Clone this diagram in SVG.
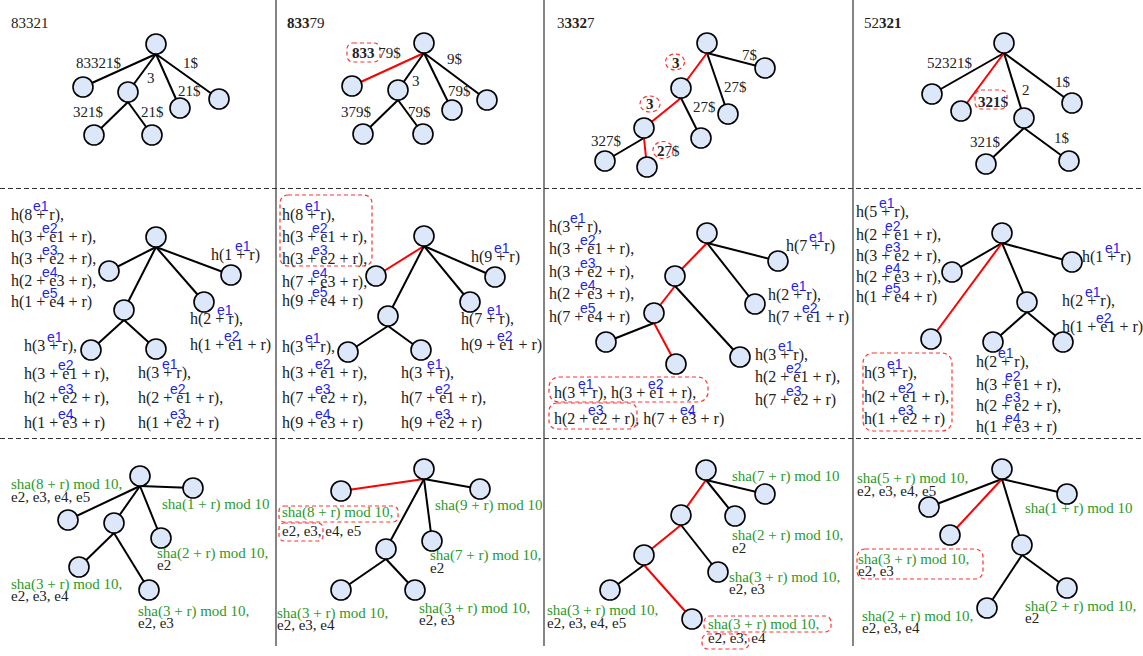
<svg xmlns="http://www.w3.org/2000/svg" width="1143" height="656" viewBox="0 0 1143 656">
<style>
.n{fill:#dce8fa;stroke:#000;stroke-width:1.6}
.e{stroke:#000;stroke-width:2;fill:none}
.r{stroke:#f00;stroke-width:2;fill:none}
.t{font-family:"Liberation Serif",serif;font-size:15px;fill:#222}
.h{font-family:"Liberation Serif",serif;font-size:16px;fill:#222}
.s{font-family:"Liberation Sans",sans-serif;font-size:14px;fill:#1f1ff0}
.g{fill:#2a9a2a}
.b{font-weight:bold}
.box{fill:none;stroke:#f33;stroke-width:1.2;stroke-dasharray:4 3}
.dv{stroke:#333;stroke-width:1.2}
.hd{stroke:#333;stroke-width:1.2;stroke-dasharray:5 3}
</style>
<g id="frame">
<line class="dv" x1="276" y1="0" x2="276" y2="646"/>
<line class="dv" x1="544" y1="0" x2="544" y2="646"/>
<line class="dv" x1="853" y1="0" x2="853" y2="646"/>
<line class="hd" x1="0" y1="188.5" x2="1143" y2="188.5"/>
<line class="hd" x1="0" y1="438.5" x2="1143" y2="438.5"/>
</g>
<g id="connectors">
<!-- row1 col1 -->
<line class="e" x1="156" y1="54" x2="83" y2="87"/>
<line class="e" x1="156" y1="54" x2="128" y2="92"/>
<line class="e" x1="156" y1="54" x2="180" y2="108"/>
<line class="e" x1="156" y1="54" x2="219" y2="99"/>
<line class="e" x1="128" y1="102" x2="94" y2="135"/>
<line class="e" x1="128" y1="102" x2="152" y2="135"/>
<!-- row1 col2 -->
<line class="r" x1="424" y1="53" x2="352" y2="86"/>
<line class="e" x1="424" y1="53" x2="398" y2="90"/>
<line class="e" x1="424" y1="53" x2="452" y2="110"/>
<line class="e" x1="424" y1="53" x2="487" y2="100"/>
<line class="e" x1="398" y1="100" x2="363" y2="134"/>
<line class="e" x1="398" y1="100" x2="423" y2="134"/>
<!-- row1 col3 -->
<line class="e" x1="707" y1="53" x2="765" y2="68"/>
<line class="e" x1="707" y1="53" x2="728" y2="114"/>
<line class="r" x1="707" y1="53" x2="681" y2="88"/>
<line class="e" x1="681" y1="98" x2="701" y2="138"/>
<line class="r" x1="681" y1="98" x2="644" y2="128"/>
<line class="e" x1="644" y1="138" x2="605" y2="161"/>
<line class="r" x1="644" y1="138" x2="647" y2="167"/>
<!-- row1 col4 -->
<line class="e" x1="1004" y1="53" x2="932" y2="94"/>
<line class="r" x1="1004" y1="53" x2="961" y2="111"/>
<line class="e" x1="1004" y1="53" x2="1024" y2="118"/>
<line class="e" x1="1004" y1="53" x2="1072" y2="103"/>
<line class="e" x1="1024" y1="128" x2="986" y2="164"/>
<line class="e" x1="1024" y1="128" x2="1069" y2="161"/>
<!-- row2 col1 -->
<line class="e" x1="156" y1="247" x2="109" y2="271"/>
<line class="e" x1="156" y1="247" x2="124" y2="310"/>
<line class="e" x1="156" y1="247" x2="204" y2="302"/>
<line class="e" x1="156" y1="247" x2="231" y2="275"/>
<line class="e" x1="124" y1="320" x2="91" y2="350"/>
<line class="e" x1="124" y1="320" x2="156" y2="349"/>
<!-- row2 col2 -->
<line class="r" x1="424" y1="246" x2="376" y2="276"/>
<line class="e" x1="424" y1="246" x2="388" y2="316"/>
<line class="e" x1="424" y1="246" x2="470" y2="302"/>
<line class="e" x1="424" y1="246" x2="495" y2="277"/>
<line class="e" x1="388" y1="326" x2="348" y2="352"/>
<line class="e" x1="388" y1="326" x2="421" y2="350"/>
<!-- row2 col3 -->
<line class="r" x1="707" y1="243" x2="675" y2="276"/>
<line class="e" x1="707" y1="243" x2="755" y2="304"/>
<line class="e" x1="707" y1="243" x2="778" y2="261"/>
<line class="r" x1="675" y1="286" x2="654" y2="313"/>
<line class="e" x1="675" y1="286" x2="740" y2="357"/>
<line class="e" x1="654" y1="323" x2="606" y2="342"/>
<line class="r" x1="654" y1="323" x2="676" y2="364"/>
<!-- row2 col4 -->
<line class="e" x1="1002" y1="243" x2="952" y2="272"/>
<line class="r" x1="1002" y1="243" x2="931" y2="339"/>
<line class="e" x1="1002" y1="243" x2="1027" y2="302"/>
<line class="e" x1="1002" y1="243" x2="1072" y2="262"/>
<line class="e" x1="1027" y1="312" x2="993" y2="342"/>
<line class="e" x1="1027" y1="312" x2="1063" y2="342"/>
<!-- row3 col1 -->
<line class="e" x1="140" y1="486" x2="68" y2="520"/>
<line class="e" x1="140" y1="486" x2="114" y2="523"/>
<line class="e" x1="140" y1="486" x2="161" y2="538"/>
<line class="e" x1="140" y1="486" x2="193" y2="488"/>
<line class="e" x1="114" y1="533" x2="79" y2="567"/>
<line class="e" x1="114" y1="533" x2="149" y2="590"/>
<!-- row3 col2 -->
<line class="r" x1="424" y1="479" x2="341" y2="491"/>
<line class="e" x1="424" y1="479" x2="386" y2="549"/>
<line class="e" x1="424" y1="479" x2="432" y2="541"/>
<line class="e" x1="424" y1="479" x2="480" y2="489"/>
<line class="e" x1="386" y1="559" x2="341" y2="590"/>
<line class="e" x1="386" y1="559" x2="415" y2="590"/>
<!-- row3 col3 -->
<line class="e" x1="706" y1="480" x2="765" y2="494"/>
<line class="e" x1="706" y1="480" x2="735" y2="516"/>
<line class="r" x1="706" y1="480" x2="681" y2="515"/>
<line class="r" x1="681" y1="525" x2="644" y2="555"/>
<line class="e" x1="681" y1="525" x2="718" y2="572"/>
<line class="e" x1="644" y1="565" x2="610" y2="590"/>
<line class="r" x1="644" y1="565" x2="692" y2="619"/>
<!-- row3 col4 -->
<line class="e" x1="1002" y1="479" x2="929" y2="507"/>
<line class="r" x1="1002" y1="479" x2="950" y2="535"/>
<line class="e" x1="1002" y1="479" x2="1022" y2="545"/>
<line class="e" x1="1002" y1="479" x2="1067" y2="494"/>
<line class="e" x1="1022" y1="555" x2="987" y2="608"/>
<line class="e" x1="1022" y1="555" x2="1067" y2="588"/>
</g>
<g id="nodes">
<g id="a1-root"><circle class="n" cx="156" cy="44" r="10"/></g>
<g id="a1-n1"><circle class="n" cx="83" cy="87" r="10"/></g>
<g id="a1-n2"><circle class="n" cx="128" cy="92" r="10"/></g>
<g id="a1-n3"><circle class="n" cx="180" cy="108" r="10"/></g>
<g id="a1-n4"><circle class="n" cx="219" cy="99" r="10"/></g>
<g id="a1-n5"><circle class="n" cx="94" cy="135" r="10"/></g>
<g id="a1-n6"><circle class="n" cx="152" cy="135" r="10"/></g>
<g id="a2-root"><circle class="n" cx="424" cy="43" r="10"/></g>
<g id="a2-n1"><circle class="n" cx="352" cy="86" r="10"/></g>
<g id="a2-n2"><circle class="n" cx="398" cy="90" r="10"/></g>
<g id="a2-n3"><circle class="n" cx="452" cy="110" r="10"/></g>
<g id="a2-n4"><circle class="n" cx="487" cy="100" r="10"/></g>
<g id="a2-n5"><circle class="n" cx="363" cy="134" r="10"/></g>
<g id="a2-n6"><circle class="n" cx="423" cy="134" r="10"/></g>
<g id="a3-root"><circle class="n" cx="707" cy="43" r="10"/></g>
<g id="a3-n1"><circle class="n" cx="765" cy="68" r="10"/></g>
<g id="a3-n2"><circle class="n" cx="728" cy="114" r="10"/></g>
<g id="a3-n3"><circle class="n" cx="681" cy="88" r="10"/></g>
<g id="a3-n4"><circle class="n" cx="701" cy="138" r="10"/></g>
<g id="a3-n5"><circle class="n" cx="644" cy="128" r="10"/></g>
<g id="a3-n6"><circle class="n" cx="605" cy="161" r="10"/></g>
<g id="a3-n7"><circle class="n" cx="647" cy="167" r="10"/></g>
<g id="a4-root"><circle class="n" cx="1004" cy="43" r="10"/></g>
<g id="a4-n1"><circle class="n" cx="932" cy="94" r="10"/></g>
<g id="a4-n2"><circle class="n" cx="961" cy="111" r="10"/></g>
<g id="a4-n3"><circle class="n" cx="1024" cy="118" r="10"/></g>
<g id="a4-n4"><circle class="n" cx="1072" cy="103" r="10"/></g>
<g id="a4-n5"><circle class="n" cx="986" cy="164" r="10"/></g>
<g id="a4-n6"><circle class="n" cx="1069" cy="161" r="10"/></g>
<g id="b1-root"><circle class="n" cx="156" cy="237" r="10"/></g>
<g id="b1-n1"><circle class="n" cx="109" cy="271" r="10"/></g>
<g id="b1-n2"><circle class="n" cx="124" cy="310" r="10"/></g>
<g id="b1-n3"><circle class="n" cx="204" cy="302" r="10"/></g>
<g id="b1-n4"><circle class="n" cx="231" cy="275" r="10"/></g>
<g id="b1-n5"><circle class="n" cx="91" cy="350" r="10"/></g>
<g id="b1-n6"><circle class="n" cx="156" cy="349" r="10"/></g>
<g id="b2-root"><circle class="n" cx="424" cy="236" r="10"/></g>
<g id="b2-n1"><circle class="n" cx="376" cy="276" r="10"/></g>
<g id="b2-n2"><circle class="n" cx="388" cy="316" r="10"/></g>
<g id="b2-n3"><circle class="n" cx="470" cy="302" r="10"/></g>
<g id="b2-n4"><circle class="n" cx="495" cy="277" r="10"/></g>
<g id="b2-n5"><circle class="n" cx="348" cy="352" r="10"/></g>
<g id="b2-n6"><circle class="n" cx="421" cy="350" r="10"/></g>
<g id="b3-root"><circle class="n" cx="707" cy="233" r="10"/></g>
<g id="b3-n1"><circle class="n" cx="675" cy="276" r="10"/></g>
<g id="b3-n2"><circle class="n" cx="755" cy="304" r="10"/></g>
<g id="b3-n3"><circle class="n" cx="778" cy="261" r="10"/></g>
<g id="b3-n4"><circle class="n" cx="654" cy="313" r="10"/></g>
<g id="b3-n5"><circle class="n" cx="740" cy="357" r="10"/></g>
<g id="b3-n6"><circle class="n" cx="606" cy="342" r="10"/></g>
<g id="b3-n7"><circle class="n" cx="676" cy="364" r="10"/></g>
<g id="b4-root"><circle class="n" cx="1002" cy="233" r="10"/></g>
<g id="b4-n1"><circle class="n" cx="952" cy="272" r="10"/></g>
<g id="b4-n2"><circle class="n" cx="931" cy="339" r="10"/></g>
<g id="b4-n3"><circle class="n" cx="1027" cy="302" r="10"/></g>
<g id="b4-n4"><circle class="n" cx="1072" cy="262" r="10"/></g>
<g id="b4-n5"><circle class="n" cx="993" cy="342" r="10"/></g>
<g id="b4-n6"><circle class="n" cx="1063" cy="342" r="10"/></g>
<g id="c1-root"><circle class="n" cx="140" cy="476" r="10"/></g>
<g id="c1-n1"><circle class="n" cx="68" cy="520" r="10"/></g>
<g id="c1-n2"><circle class="n" cx="114" cy="523" r="10"/></g>
<g id="c1-n3"><circle class="n" cx="161" cy="538" r="10"/></g>
<g id="c1-n4"><circle class="n" cx="193" cy="488" r="10"/></g>
<g id="c1-n5"><circle class="n" cx="79" cy="567" r="10"/></g>
<g id="c1-n6"><circle class="n" cx="149" cy="590" r="10"/></g>
<g id="c2-root"><circle class="n" cx="424" cy="469" r="10"/></g>
<g id="c2-n1"><circle class="n" cx="341" cy="491" r="10"/></g>
<g id="c2-n2"><circle class="n" cx="386" cy="549" r="10"/></g>
<g id="c2-n3"><circle class="n" cx="432" cy="541" r="10"/></g>
<g id="c2-n4"><circle class="n" cx="480" cy="489" r="10"/></g>
<g id="c2-n5"><circle class="n" cx="341" cy="590" r="10"/></g>
<g id="c2-n6"><circle class="n" cx="415" cy="590" r="10"/></g>
<g id="c3-root"><circle class="n" cx="706" cy="470" r="10"/></g>
<g id="c3-n1"><circle class="n" cx="765" cy="494" r="10"/></g>
<g id="c3-n2"><circle class="n" cx="735" cy="516" r="10"/></g>
<g id="c3-n3"><circle class="n" cx="681" cy="515" r="10"/></g>
<g id="c3-n4"><circle class="n" cx="644" cy="555" r="10"/></g>
<g id="c3-n5"><circle class="n" cx="718" cy="572" r="10"/></g>
<g id="c3-n6"><circle class="n" cx="610" cy="590" r="10"/></g>
<g id="c3-n7"><circle class="n" cx="692" cy="619" r="10"/></g>
<g id="c4-root"><circle class="n" cx="1002" cy="469" r="10"/></g>
<g id="c4-n1"><circle class="n" cx="929" cy="507" r="10"/></g>
<g id="c4-n2"><circle class="n" cx="950" cy="535" r="10"/></g>
<g id="c4-n3"><circle class="n" cx="1022" cy="545" r="10"/></g>
<g id="c4-n4"><circle class="n" cx="1067" cy="494" r="10"/></g>
<g id="c4-n5"><circle class="n" cx="987" cy="608" r="10"/></g>
<g id="c4-n6"><circle class="n" cx="1067" cy="588" r="10"/></g>
</g>
<g id="highlights">
<rect class="box" x="347" y="43" width="33" height="19" rx="6"/>
<ellipse class="box" cx="675" cy="62" rx="9.5" ry="8"/>
<ellipse class="box" cx="650" cy="104" rx="10" ry="8"/>
<ellipse class="box" cx="663" cy="150" rx="10" ry="8.5"/>
<rect class="box" x="975" y="90" width="32" height="19" rx="6"/>
<rect class="box" x="280" y="195" width="92" height="71" rx="8"/>
<rect class="box" x="549" y="377" width="159" height="25" rx="10"/>
<rect class="box" x="549" y="403" width="88" height="26" rx="8"/>
<rect class="box" x="863" y="353" width="89" height="78" rx="10"/>
<rect class="box" x="279" y="506" width="119" height="16" rx="5"/>
<rect class="box" x="279" y="523" width="44" height="18" rx="5"/>
<rect class="box" x="704" y="616" width="127" height="16" rx="6"/>
<rect class="box" x="702" y="634" width="47" height="15" rx="6"/>
<rect class="box" x="857" y="549" width="126" height="30" rx="8"/>
</g>
<g id="labels-row1" class="t">
<text x="11" y="28">83321</text>
<text x="76" y="68">83321$</text>
<text x="147" y="83">3</text>
<text x="183" y="68">1$</text>
<text x="178" y="96">21$</text>
<text x="73" y="117">321$</text>
<text x="141" y="117">21$</text>
<text x="287" y="28"><tspan class="b">833</tspan>79</text>
<text x="352" y="58"><tspan class="b">833</tspan> 79$</text>
<text x="447" y="64">9$</text>
<text x="412" y="86">3</text>
<text x="448" y="96">79$</text>
<text x="341" y="117">379$</text>
<text x="408" y="117">79$</text>
<text x="557" y="28">3<tspan class="b">332</tspan>7</text>
<text x="742" y="60">7$</text>
<text x="724" y="92">27$</text>
<text x="693" y="112">27$</text>
<text x="591" y="146">327$</text>
<text x="672" y="68" class="b">3</text>
<text x="646" y="109" class="b">3</text>
<text x="657" y="156"><tspan class="b">2</tspan>7$</text>
<text x="864" y="28">52<tspan class="b">321</tspan></text>
<text x="927" y="68">52321$</text>
<text x="978" y="107"><tspan class="b">321</tspan>$</text>
<text x="1022" y="95">2</text>
<text x="1055" y="87">1$</text>
<text x="970" y="147">321$</text>
<text x="1054" y="143">1$</text>
</g>
<g id="labels-row2">
<g class="h">
<text x="11" y="220">h(8 + r),</text>
<text x="11" y="242">h(3 + e1 + r),</text>
<text x="11" y="264">h(3 + e2 + r),</text>
<text x="11" y="286">h(2 + e3 + r),</text>
<text x="11" y="307">h(1 + e4 + r)</text>
<text x="211" y="260">h(1 + r)</text>
<text x="190" y="324">h(2 + r),</text>
<text x="190" y="350">h(1 + e1 + r)</text>
<text x="24" y="351">h(3 + r),</text>
<text x="24" y="379">h(3 + e1 + r),</text>
<text x="24" y="403">h(2 + e2 + r),</text>
<text x="24" y="428">h(1 + e3 + r)</text>
<text x="138" y="378">h(3 + r),</text>
<text x="138" y="403">h(2 + e1 + r),</text>
<text x="138" y="428">h(1 + e2 + r)</text>

<text x="282" y="220">h(8 + r),</text>
<text x="282" y="242">h(3 + e1 + r),</text>
<text x="282" y="264">h(3 + e2 + r),</text>
<text x="282" y="287">h(7 + e3 + r),</text>
<text x="282" y="306">h(9 + e4 + r)</text>
<text x="471" y="262">h(9 + r)</text>
<text x="461" y="324">h(7 + r),</text>
<text x="461" y="350">h(9 + e1 + r)</text>
<text x="282" y="352">h(3 + r),</text>
<text x="282" y="378">h(3 + e1 + r),</text>
<text x="282" y="403">h(7 + e2 + r),</text>
<text x="282" y="428">h(9 + e3 + r)</text>
<text x="401" y="378">h(3  + r),</text>
<text x="401" y="403">h(7 + e1 + r),</text>
<text x="401" y="428">h(9 + e2 + r)</text>

<text x="549" y="232">h(3 + r),</text>
<text x="549" y="254">h(3 + e1 + r),</text>
<text x="549" y="277">h(3 + e2 + r),</text>
<text x="549" y="299">h(2 + e3 + r),</text>
<text x="549" y="322">h(7 + e4 + r)</text>
<text x="786" y="251">h(7 + r)</text>
<text x="768" y="300">h(2 + r),</text>
<text x="768" y="322">h(7 + e1 + r)</text>
<text x="755" y="360">h(3 + r),</text>
<text x="755" y="382">h(2 + e1 + r),</text>
<text x="755" y="405">h(7 + e2 + r)</text>
<text x="554" y="398">h(3 + r), h(3 + e1 + r),</text>
<text x="554" y="424">h(2 + e2 + r), h(7 + e3 + r)</text>

<text x="856" y="217">h(5 + r),</text>
<text x="856" y="240">h(2 + e1 + r),</text>
<text x="856" y="261">h(3 + e2 + r),</text>
<text x="856" y="282">h(2 + e3 + r),</text>
<text x="856" y="302">h(1 + e4 + r)</text>
<text x="1082" y="262">h(1 + r)</text>
<text x="1062" y="306">h(2 + r),</text>
<text x="1062" y="332">h(1 + e1 + r)</text>
<text x="864" y="378">h(3 + r),</text>
<text x="864" y="402">h(2 + e1 + r),</text>
<text x="864" y="424">h(1 + e2 + r)</text>
<text x="976" y="367">h(2 + r),</text>
<text x="976" y="390">h(3 + e1 + r),</text>
<text x="976" y="411">h(2 + e2 + r),</text>
<text x="976" y="432">h(1 + e3 + r)</text>
</g>
<g class="s">
<text x="33" y="211">e1</text>
<text x="42" y="233">e2</text>
<text x="42" y="255">e3</text>
<text x="42" y="277">e4</text>
<text x="42" y="298">e5</text>
<text x="235" y="251">e1</text>
<text x="217" y="315">e1</text>
<text x="224" y="341">e2</text>
<text x="47" y="342">e1</text>
<text x="58" y="370">e2</text>
<text x="58" y="394">e3</text>
<text x="58" y="419">e4</text>
<text x="162" y="369">e1</text>
<text x="170" y="394">e2</text>
<text x="170" y="419">e3</text>

<text x="305" y="211">e1</text>
<text x="312" y="233">e2</text>
<text x="312" y="255">e3</text>
<text x="312" y="278">e4</text>
<text x="312" y="297">e5</text>
<text x="494" y="253">e1</text>
<text x="487" y="315">e1</text>
<text x="497" y="341">e2</text>
<text x="305" y="343">e1</text>
<text x="315" y="369">e2</text>
<text x="315" y="394">e3</text>
<text x="315" y="419">e4</text>
<text x="427" y="369">e1</text>
<text x="435" y="394">e2</text>
<text x="435" y="419">e3</text>

<text x="570" y="223">e1</text>
<text x="580" y="245">e2</text>
<text x="580" y="268">e3</text>
<text x="580" y="290">e4</text>
<text x="580" y="313">e5</text>
<text x="809" y="242">e1</text>
<text x="791" y="291">e1</text>
<text x="802" y="313">e2</text>
<text x="778" y="351">e1</text>
<text x="786" y="373">e2</text>
<text x="786" y="396">e3</text>
<text x="578" y="389">e1</text>
<text x="648" y="389">e2</text>
<text x="588" y="415">e3</text>
<text x="680" y="415">e4</text>

<text x="879" y="208">e1</text>
<text x="885" y="231">e2</text>
<text x="885" y="252">e3</text>
<text x="885" y="273">e4</text>
<text x="885" y="293">e5</text>
<text x="1105" y="253">e1</text>
<text x="1085" y="297">e1</text>
<text x="1096" y="323">e2</text>
<text x="887" y="369">e1</text>
<text x="898" y="393">e2</text>
<text x="898" y="415">e3</text>
<text x="998" y="358">e1</text>
<text x="1005" y="381">e2</text>
<text x="1005" y="402">e3</text>
<text x="1005" y="423">e4</text>
</g>
</g>
<g id="labels-row3" class="t">
<text x="11" y="489" class="g">sha(8 + r) mod 10,</text><text x="11" y="502">e2, e3, e4, e5</text>
<text x="162" y="509" class="g">sha(1 + r) mod 10</text>
<text x="157" y="558" class="g">sha(2 + r) mod 10,</text><text x="157" y="570">e2</text>
<text x="11" y="589" class="g">sha(3 + r) mod 10,</text><text x="11" y="601">e2, e3, e4</text>
<text x="138" y="616" class="g">sha(3 + r) mod 10,</text><text x="138" y="628">e2, e3</text>

<text x="282" y="517" class="g">sha(8 + r) mod 10,</text><text x="282" y="536">e2, e3, e4, e5</text>
<text x="435" y="510" class="g">sha(9 + r) mod 10</text>
<text x="430" y="560" class="g">sha(7 + r) mod 10,</text><text x="430" y="573">e2</text>
<text x="277" y="618" class="g">sha(3 + r) mod 10,</text><text x="277" y="630">e2, e3, e4</text>
<text x="419" y="613" class="g">sha(3 + r) mod 10,</text><text x="419" y="625">e2, e3</text>

<text x="732" y="481" class="g">sha(7 + r) mod 10</text>
<text x="732" y="540" class="g">sha(2 + r) mod 10,</text><text x="732" y="553">e2</text>
<text x="729" y="582" class="g">sha(3 + r) mod 10,</text><text x="729" y="594">e2, e3</text>
<text x="547" y="615" class="g">sha(3 + r) mod 10,</text><text x="547" y="628">e2, e3, e4, e5</text>
<text x="708" y="629" class="g">sha(3 + r) mod 10,</text><text x="708" y="643">e2, e3, e4</text>

<text x="857" y="483" class="g">sha(5 + r) mod 10,</text><text x="857" y="496">e2, e3, e4, e5</text>
<text x="1025" y="513" class="g">sha(1 + r) mod 10</text>
<text x="858" y="564" class="g">sha(3 + r) mod 10,</text><text x="858" y="576">e2, e3</text>
<text x="862" y="621" class="g">sha(2 + r) mod 10,</text><text x="862" y="633">e2, e3, e4</text>
<text x="1025" y="611" class="g">sha(2 + r) mod 10,</text><text x="1025" y="623">e2</text>
</g>
</svg>
